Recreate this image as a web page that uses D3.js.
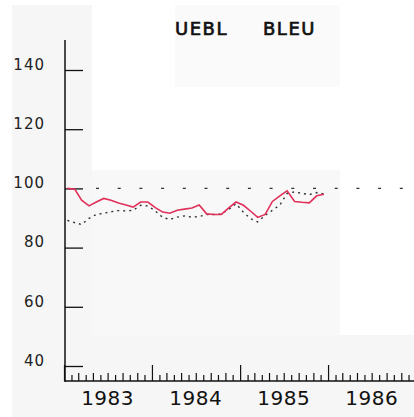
<!DOCTYPE html>
<html>
<head>
<meta charset="utf-8">
<script src="https://cdn.jsdelivr.net/npm/d3@7"></script>
<style>
  body { margin: 0; background: #fff; }
  text { font-family: "DejaVu Sans", sans-serif; }
</style>
</head>
<body>
<div id="container"></div>
<script>
// monthly index values, jan 1983 .. dec 1985
let titles = ["UEBL", "BLEU"];
let years = [1983, 1984, 1985, 1986];
let yTicks = [40, 60, 80, 100, 120, 140];
let refValue = 100;

// red line (solid)
let redSeries = [100, 99.7, 96, 94.1, 95.4, 96.6, 96, 95.1, 94.4, 93.7, 95.4, 95.4,
                 93.5, 92, 91.6, 92.6, 93, 93.4, 94.4, 91.4, 91.2, 91.2, 93.4, 95.4,
                 94.3, 92.2, 90.2, 91.2, 95.6, 97.5, 99.2, 95.6, 95.3, 95.1, 97.5, 98];
// dotted line
let dotSeries = [89.2, 88.4, 87.8, 89.9, 91.2, 91.6, 92.1, 92.5, 92.4, 92.6, 94.3, 94.1,
                 92.4, 90.2, 89.5, 90.3, 90.7, 90.3, 90.5, 91.2, 91.2, 91.4, 92.9, 94.8,
                 91.9, 89.7, 88.7, 90.9, 92.6, 94.4, 98.3, 98.8, 98.3, 97.9, 98.6, 98.1];

let w = 414;
let h = 417;

let viz = d3.select("#container")
  .append("svg")
    .attr("width", w)
    .attr("height", h)
    .style("display", "block")
    .style("background-color", "#fff");

// faint scan-like panels
viz.append("rect").attr("x", 12).attr("y", 5).attr("width", 80).attr("height", 412).attr("fill", "#f6f6f6");
viz.append("rect").attr("x", 175).attr("y", 5).attr("width", 165).attr("height", 82).attr("fill", "#fafafa");
viz.append("rect").attr("x", 92).attr("y", 170).attr("width", 248).attr("height", 165).attr("fill", "#f8f8f8");
viz.append("rect").attr("x", 12).attr("y", 335).attr("width", 402).attr("height", 82).attr("fill", "#f6f6f6");

let x = d3.scaleTime()
  .domain([new Date(1983, 0, 1), new Date(1987, 0, 1)])
  .range([64, 416]);
let y = d3.scaleLinear().domain([40, 140]).range([366, 70]);

function monthDate(d, i) {
  return new Date(1983, i, 15);
}

// title
viz.selectAll(".title").data(titles).enter()
  .append("text")
    .attr("class", "title")
    .attr("x", function(d, i) { return 175 + i * 88; })
    .attr("y", 35)
    .style("font-size", "18px")
    .style("letter-spacing", "1.5px")
    .style("fill", "#111")
    .style("stroke", "#111")
    .style("stroke-width", 0.7)
    .text(function(d) { return d; });

// y axis
let yAxis = d3.axisLeft(y).tickValues(yTicks).tickSize(-18).tickPadding(20);
let yg = viz.append("g").attr("transform", "translate(65,0)").call(yAxis);
yg.select(".domain").remove();
yg.selectAll("line").attr("stroke", "#111").attr("stroke-width", 1.3);
yg.selectAll("text")
  .attr("dy", "-0.05em")
  .style("font-family", "DejaVu Sans, sans-serif")
  .style("font-size", "15px")
  .style("letter-spacing", "1px")
  .style("fill", "#222");
viz.append("line")
  .attr("x1", 65).attr("x2", 65)
  .attr("y1", 40).attr("y2", 382)
  .attr("stroke", "#111").attr("stroke-width", 1.5);

// x axis: month ticks pointing up
let months = d3.timeMonth.range(new Date(1983, 0, 1), new Date(1987, 0, 1));
let xAxis = d3.axisBottom(x).tickValues(months).tickSize(-6).tickFormat("");
let xg = viz.append("g").attr("transform", "translate(0,381)").call(xAxis);
xg.select(".domain").remove();
xg.selectAll(".tick line")
  .attr("stroke", "#111")
  .attr("stroke-width", 1.2)
  .attr("y2", function(d) {
    if (d.getMonth() == 0) return -16;
    return d.getMonth() % 2 == 0 ? -8 : -6;
  });
viz.append("line")
  .attr("x1", 65).attr("x2", 414)
  .attr("y1", 381).attr("y2", 381)
  .attr("stroke", "#111").attr("stroke-width", 1.6);

viz.selectAll(".year").data(years).enter()
  .append("text")
    .attr("class", "year")
    .attr("x", function(d) { return x(new Date(d, 6, 1)); })
    .attr("y", 405)
    .attr("text-anchor", "middle")
    .style("font-size", "20px")
    .style("letter-spacing", "0.5px")
    .style("fill", "#111")
    .text(function(d) { return d; });

// reference line at 100
viz.append("line")
  .attr("x1", 96).attr("x2", 410)
  .attr("y1", y(refValue)).attr("y2", y(refValue))
  .attr("stroke", "#333")
  .attr("stroke-width", 1.2)
  .style("stroke-dasharray", "3,18.7");

let line = d3.line()
  .x(function(d, i) { return x(monthDate(d, i)); })
  .y(function(d) { return y(d); })
  .curve(d3.curveLinear);

viz.append("path")
  .datum(dotSeries)
  .attr("d", line)
  .attr("fill", "none")
  .attr("stroke", "#333")
  .attr("stroke-width", 1.4)
  .style("stroke-dasharray", "2,4");

viz.append("path")
  .datum(redSeries)
  .attr("d", line)
  .attr("fill", "none")
  .attr("stroke", "#e0305a")
  .attr("stroke-width", 1.6);
</script>
</body>
</html>
